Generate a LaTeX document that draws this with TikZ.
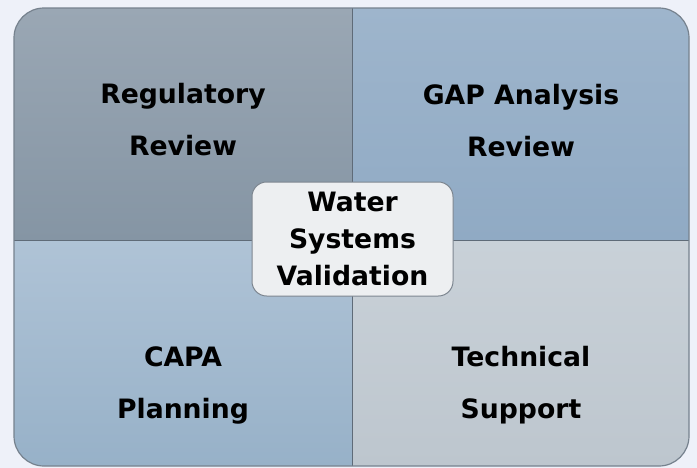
\documentclass[tikz,border=0pt]{standalone}
\usepackage{fontspec}
\setmainfont{DejaVu Sans}
\usetikzlibrary{positioning}

\definecolor{bgcol}{HTML}{EEF1F9}
\definecolor{tltop}{HTML}{9AA7B4}
\definecolor{tlbot}{HTML}{8595A4}
\definecolor{trtop}{HTML}{9EB5CC}
\definecolor{trbot}{HTML}{90AAC4}
\definecolor{bltop}{HTML}{AFC3D6}
\definecolor{blbot}{HTML}{97B1C8}
\definecolor{brtop}{HTML}{C9D1D8}
\definecolor{brbot}{HTML}{BDC6CE}
\definecolor{hubfill}{HTML}{EDEFF1}
\definecolor{hubline}{HTML}{7D8690}
\definecolor{edgecol}{HTML}{76828E}
\definecolor{splitcol}{HTML}{5F6B78}

\begin{document}
\begin{tikzpicture}[x=0.75pt,y=0.75pt,yscale=-1,xscale=1,
    quadlabel/.style={align=center,inner sep=0.75pt,font=\bfseries\fontsize{20}{39}\selectfont},
    hub/.style={draw=hubline,line width=0.75pt,fill=hubfill,rounded corners=11pt,
        minimum width=150.75pt,minimum height=85.5pt,align=center,inner sep=0.75pt,
        font=\bfseries\fontsize{20}{27.5}\selectfont}]
        \useasboundingbox (0,0) rectangle (697,468);
        \fill [bgcol] (0,0) rectangle (697,468);

        %Shape: Quadrants
        \begin{scope}
            \clip [rounded corners=22.5pt] (14,8) rectangle (689,466);
            \shade [top color=tltop,bottom color=tlbot] (14,8) rectangle (352,240);
            \shade [top color=trtop,bottom color=trbot] (352,8) rectangle (689,240);
            \shade [top color=bltop,bottom color=blbot] (14,240) rectangle (352,466);
            \shade [top color=brtop,bottom color=brbot] (352,240) rectangle (689,466);
        \end{scope}
        %Straight Lines
        \draw [color=splitcol,line width=0.6pt] (352,8) -- (352,466) ;
        \draw [color=splitcol,line width=0.6pt] (14,240) -- (689,240) ;
        %Shape: Rounded Rectangle
        \draw [color=edgecol,line width=0.9pt,rounded corners=22.5pt] (14,8) rectangle (689,466) ;

        % Text Node
        \node (regrev) at (183,120) [quadlabel] {Regulatory\\Review};
        % Text Node
        \node (gaprev) at (521,121) [quadlabel] {GAP Analysis\\Review};
        % Text Node
        \node (capa) at (183,385) [quadlabel] {CAPA\\Planning};
        % Text Node
        \node (techsup) at (521,385) [quadlabel] {Technical\\Support};
        % Text Node
        \node (wsv) at (352.5,239) [hub] {Water\\Systems\\Validation};

    \end{tikzpicture}
\end{document}
